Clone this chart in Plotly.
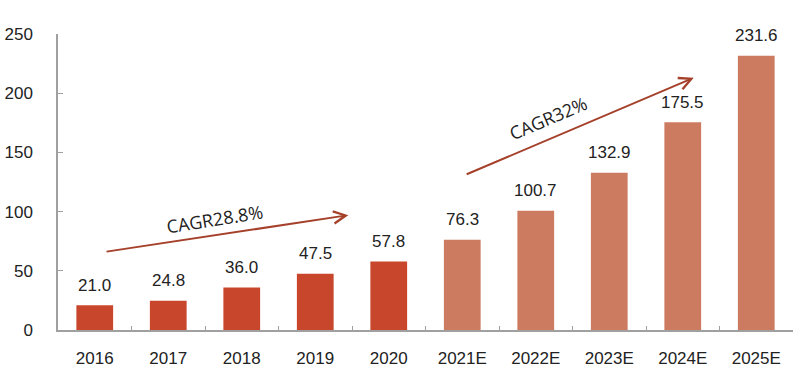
import plotly.graph_objects as go

categories = ["2016", "2017", "2018", "2019", "2020", "2021E", "2022E", "2023E", "2024E", "2025E"]
values = [21.0, 24.8, 36.0, 47.5, 57.8, 76.3, 100.7, 132.9, 175.5, 231.6]
actual_flags = [True, True, True, True, True, False, False, False, False, False]
y_ticks = [0, 50, 100, 150, 200, 250]

dark = "#c8462b"
light = "#cd7b60"
arrow_col = "#a5412b"
axis_col = "#a0a0a0"

colors = [dark if a else light for a in actual_flags]

fig = go.Figure()
fig.add_trace(go.Bar(
    x=categories, y=values, marker=dict(color=colors, line=dict(width=0)),
))

for i, v in enumerate(values):
    fig.add_annotation(x=i, y=v, text=f"{v:.1f}", showarrow=False, yanchor="middle", yshift=20,
                       font=dict(size=17, color="#222222", family="Liberation Sans, Arial"))

# arrows
fig.add_annotation(x=3.45, y=97, ax=0.14, ay=66, xref="x", yref="y", axref="x", ayref="y",
                   showarrow=True, arrowhead=5, arrowsize=1.2, arrowwidth=2, arrowcolor=arrow_col, text="")
fig.add_annotation(x=8.15, y=213, ax=5.04, ay=131, xref="x", yref="y", axref="x", ayref="y",
                   showarrow=True, arrowhead=5, arrowsize=1.2, arrowwidth=2, arrowcolor=arrow_col, text="")
fig.add_annotation(x=1.63, y=94, text="CAGR28.8%", showarrow=False, textangle=-9,
                   font=dict(size=18, color="#222222", family="Open Sans, Liberation Sans"))
fig.add_annotation(x=6.17, y=179, text="CAGR32%", showarrow=False, textangle=-23,
                   font=dict(size=18, color="#222222", family="Open Sans, Liberation Sans"))

fig.update_layout(
    width=800, height=379,
    margin=dict(l=58, r=7, t=34, b=49),
    paper_bgcolor="white", plot_bgcolor="white",
    bargap=0.5, showlegend=False,
    font=dict(family="Liberation Sans, Arial", size=17, color="#222222"),
    xaxis=dict(type="category", categoryorder="array", categoryarray=categories,
               showline=True, linecolor=axis_col, linewidth=1.5,
               ticks="inside", tickson="boundaries", ticklen=4, tickcolor=axis_col,
               ticklabelstandoff=12, showgrid=False, tickfont=dict(size=17), automargin=False),
    yaxis=dict(range=[0, 250], tickvals=y_ticks, showline=True, linecolor=axis_col, linewidth=1.5,
               ticks="inside", ticklen=5, tickcolor=axis_col, showgrid=False, zeroline=False,
               ticklabelstandoff=20, tickfont=dict(size=17), automargin=False),
)

fig.write_html("out.html", config={"displayModeBar": False},
               post_script="document.body.style.margin='0';document.body.style.padding='0';")
